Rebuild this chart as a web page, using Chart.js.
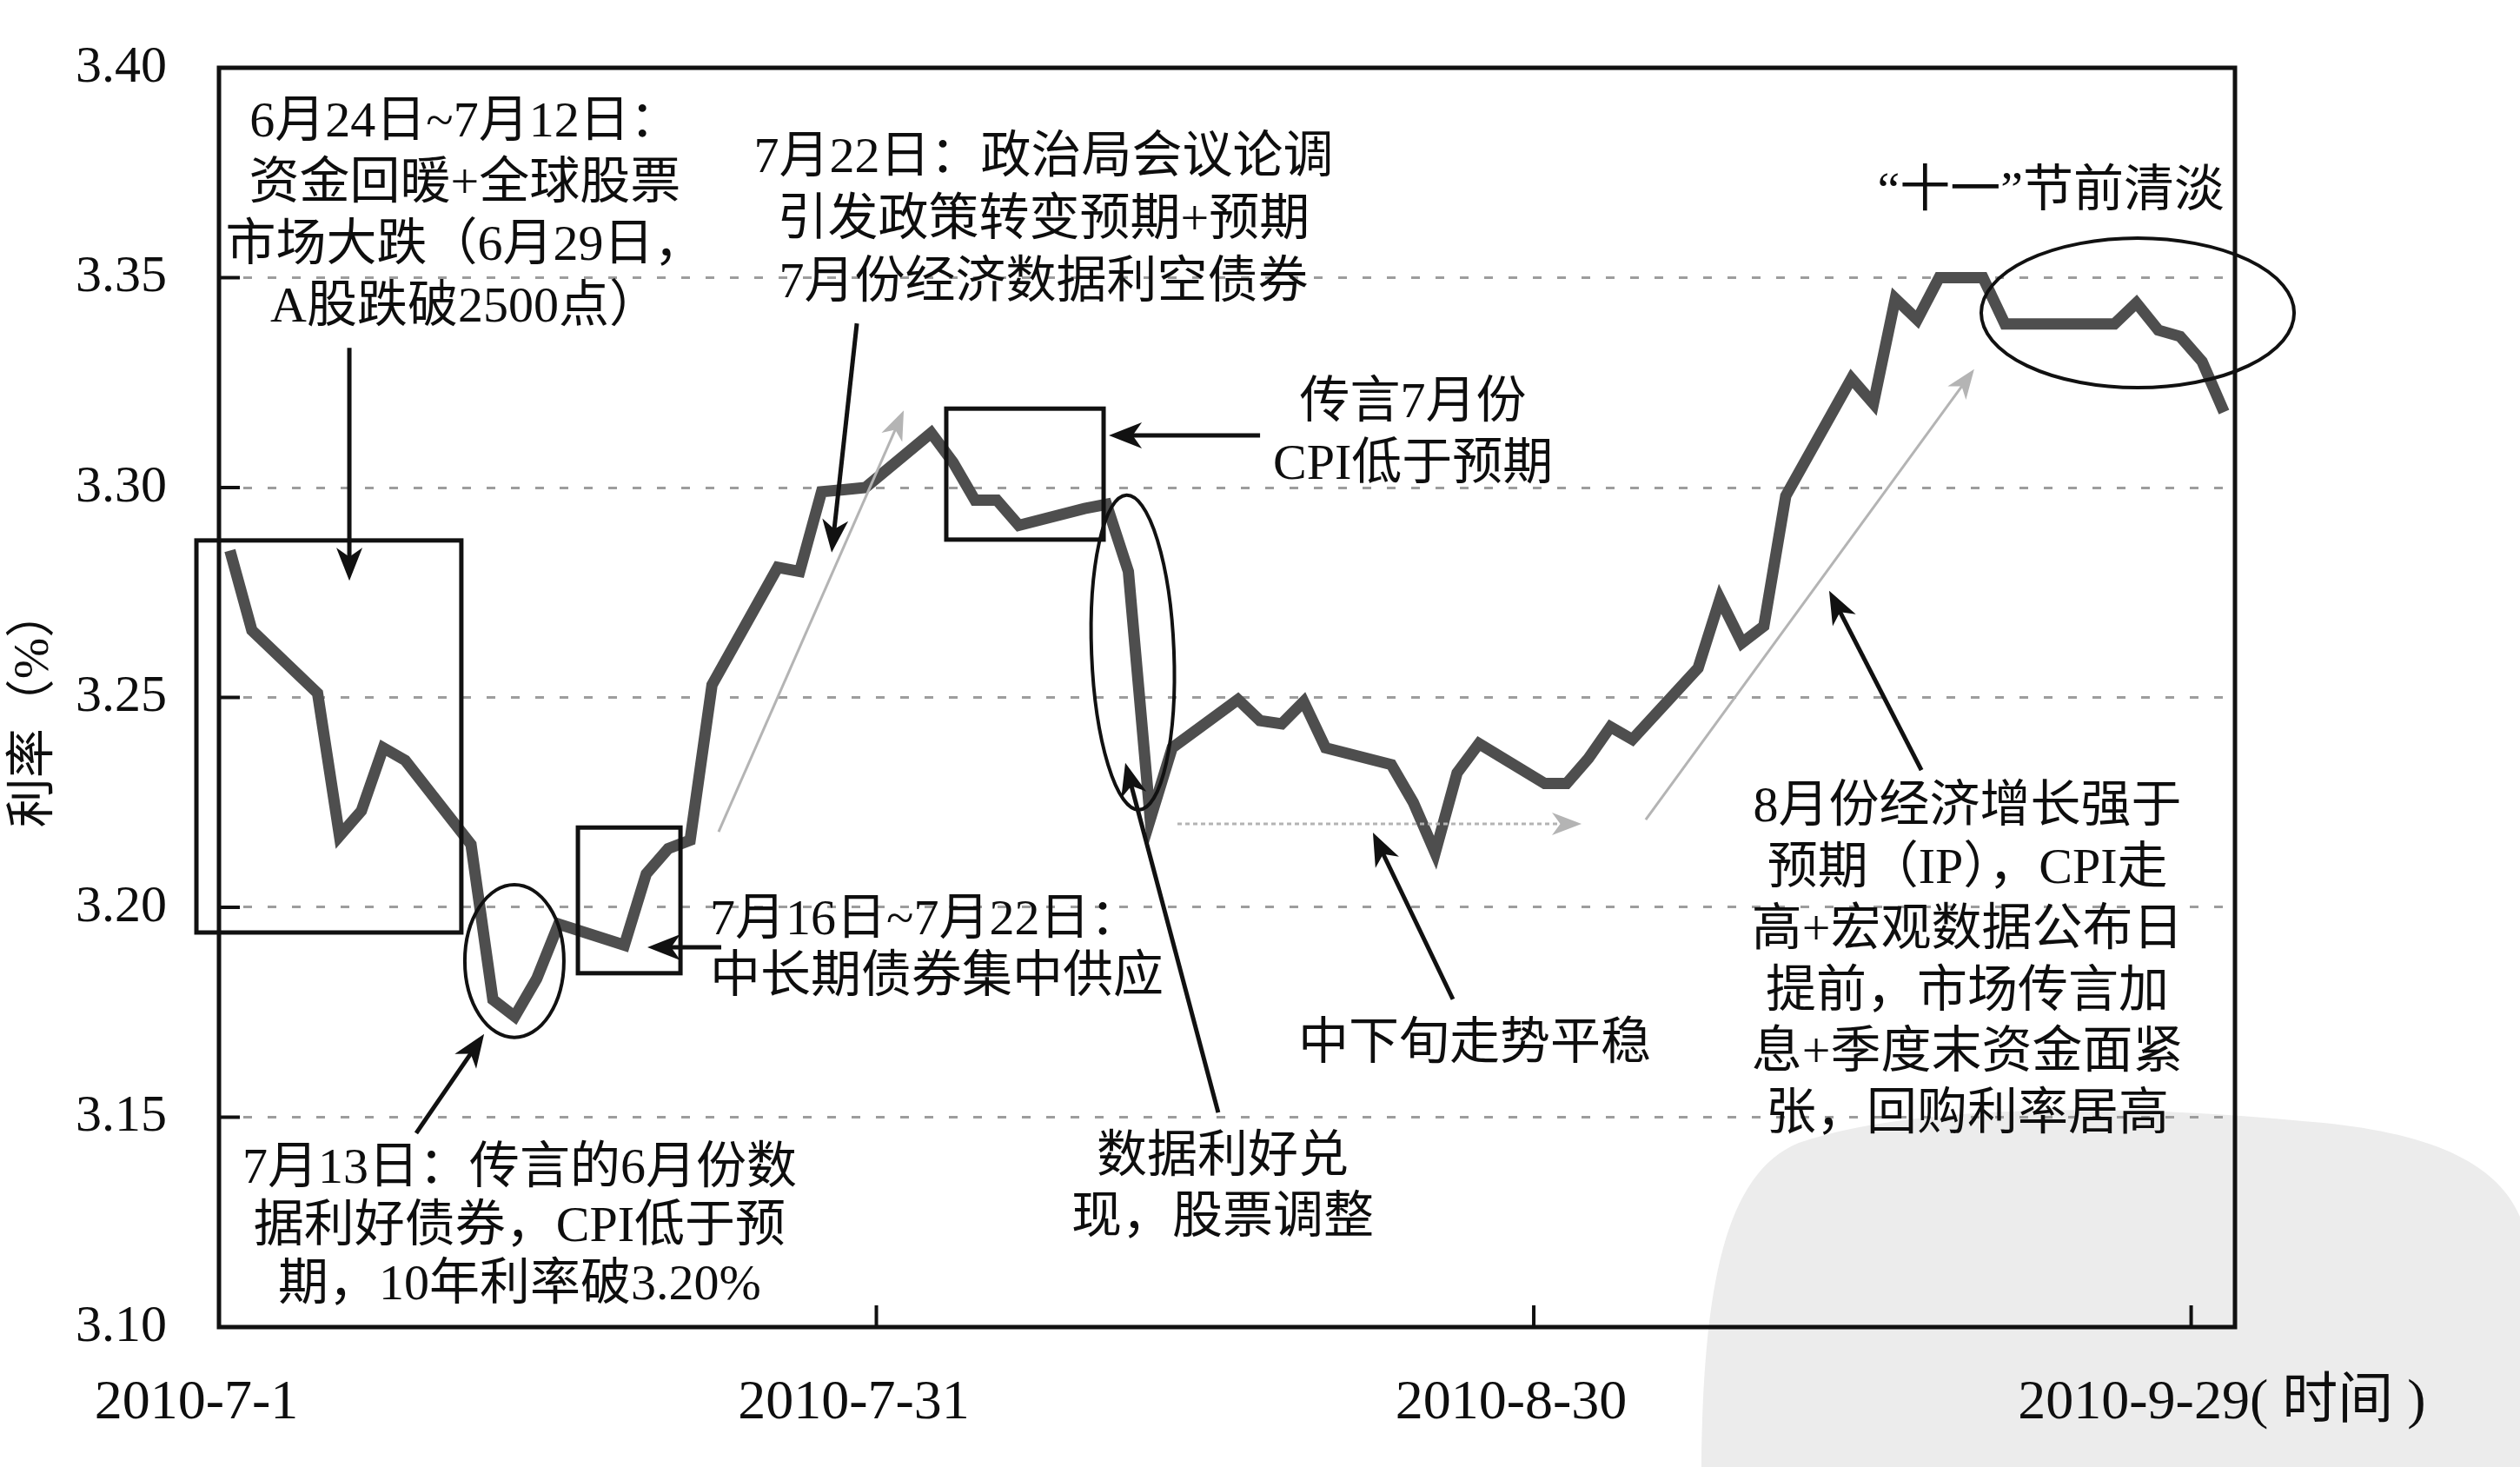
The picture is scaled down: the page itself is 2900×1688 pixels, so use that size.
<!DOCTYPE html>
<html><head><meta charset="utf-8">
<script src="https://cdn.jsdelivr.net/npm/chart.js@4.4.1/dist/chart.umd.min.js"></script>
<style>html,body{margin:0;padding:0;background:#fff}canvas{display:block}</style>
</head><body>
<canvas id="c" width="2900" height="1688"></canvas>
<script>
// ---------------- DATA ----------------
const startDate = '2010-07-01';
const dates = [
 '2010-07-01','2010-07-02','2010-07-05','2010-07-06','2010-07-07','2010-07-08','2010-07-09',
 '2010-07-12','2010-07-13','2010-07-14','2010-07-15','2010-07-16',
 '2010-07-19','2010-07-20','2010-07-21','2010-07-22','2010-07-23',
 '2010-07-26','2010-07-27','2010-07-28','2010-07-29','2010-07-30',
 '2010-08-02','2010-08-03','2010-08-04','2010-08-05','2010-08-06',
 '2010-08-09','2010-08-10','2010-08-11','2010-08-12','2010-08-13',
 '2010-08-16','2010-08-17','2010-08-18','2010-08-19','2010-08-20',
 '2010-08-23','2010-08-24','2010-08-25','2010-08-26','2010-08-27',
 '2010-08-30','2010-08-31','2010-09-01','2010-09-02','2010-09-03',
 '2010-09-06','2010-09-07','2010-09-08','2010-09-09','2010-09-10',
 '2010-09-13','2010-09-14','2010-09-15','2010-09-16','2010-09-17',
 '2010-09-19','2010-09-20','2010-09-21','2010-09-25','2010-09-26',
 '2010-09-27','2010-09-28','2010-09-29','2010-09-30'
];
const yields = [
 3.285,3.266,3.251,3.217,3.223,3.238,3.235,
 3.215,3.178,3.174,3.183,3.196,
 3.191,3.208,3.214,3.216,3.253,
 3.281,3.280,3.299,3.2995,3.300,
 3.313,3.306,3.297,3.297,3.291,
 3.295,3.296,3.280,3.221,3.238,
 3.2495,3.2445,3.2437,3.249,3.238,
 3.234,3.225,3.213,3.232,3.239,
 3.2295,3.2295,3.2355,3.243,3.240,
 3.257,3.2735,3.263,3.267,3.298,
 3.326,3.320,3.345,3.340,3.350,
 3.350,3.339,3.339,3.339,3.344,
 3.3375,3.336,3.330,3.318
];
const xTickDays   = [0, 30, 60, 90];
const xTickLabels = ['2010-7-1','2010-7-31','2010-8-30','2010-9-29'];
const xUnitLabel  = '( 时间 )';
const xSpanDays   = 92;
const yTicks      = [3.10, 3.15, 3.20, 3.25, 3.30, 3.35, 3.40];
const yTitle      = '利率（%）';

// annotations in chart units: [day since 2010-7-1, yield]
const boxNotes = [
  {from:[-1.03,3.2874], to:[11.06,3.1940]},
  {from:[16.38,3.2190], to:[21.06,3.1843]},
  {from:[33.19,3.3188], to:[40.37,3.2876]}
];
const ellipseNotes = [
  {c:[13.48,3.1872], rx:2.26, ry:0.0182, rot:0},
  {c:[41.70,3.2607], rx:1.88, ry:0.0375, rot:-0.04},
  {c:[87.56,3.3416], rx:7.14, ry:0.0178, rot:0}
];
const blackArrows = [
  [[5.95,3.3333],[5.95,3.2778]],
  [[9.00,3.1462],[12.10,3.1698]],
  [[22.92,3.1905],[19.55,3.1905]],
  [[29.11,3.3391],[27.96,3.2845]],
  [[47.51,3.3124],[40.61,3.3124]],
  [[45.60,3.1511],[41.36,3.2344]],
  [[56.31,3.1781],[52.66,3.2178]],
  [[77.69,3.2327],[73.48,3.2754]]
];
const grayArrows = [
  {from:[22.80,3.2180], to:[31.25,3.3184], dotted:false},
  {from:[43.74,3.2199], to:[62.18,3.2199], dotted:true},
  {from:[65.11,3.2209], to:[80.10,3.3282], dotted:false}
];
const textNotes = [
  {at:[11.22,3.3867], align:'center', gap:71, lines:['6月24日~7月12日：','资金回暖+全球股票','市场大跌（6月29日，','A股跌破2500点）']},
  {at:[37.63,3.3783], align:'center', gap:72, lines:['7月22日：政治局会议论调','引发政策转变预期+预期','7月份经济数据利空债券']},
  {at:[54.49,3.3199], align:'center', gap:71, lines:['传言7月份','CPI低于预期']},
  {at:[83.60,3.3702], align:'center', gap:70, lines:['“十一”节前清淡']},
  {at:[22.41,3.1967], align:'left',   gap:66, lines:['7月16日~7月22日：','中长期债券集中供应']},
  {at:[13.72,3.1375], align:'center', gap:67, lines:['7月13日：传言的6月份数','据利好债券，CPI低于预','期，10年利率破3.20%']},
  {at:[45.80,3.1402], align:'center', gap:70, lines:['数据利好兑','现，股票调整']},
  {at:[57.30,3.1671], align:'center', gap:70, lines:['中下旬走势平稳']},
  {at:[79.79,3.2236], align:'center', gap:70.8, lines:['8月份经济增长强于','预期（IP），CPI走','高+宏观数据公布日','提前，市场传言加','息+季度末资金面紧','张，回购利率居高']}
];

// ---------------- BUILD ----------------
function dayIndex(s){ return Math.round((Date.parse(s+'T00:00:00Z') - Date.parse(startDate+'T00:00:00Z'))/86400000); }
// each daily value is placed at the middle of its calendar day
const points = dates.map((d,i)=>({x: dayIndex(d)+0.5, y: yields[i]}));

const FONT = '"Liberation Serif", "Noto Sans CJK SC", serif';
const INK = '#0e0e0e';
const LAST_PAD = '\u2002\u2002 ';   // keeps the last date label left of its tick, as in the source

function drawArrow(ctx,x1,y1,x2,y2,color,lw,len,half,dash){
  const a = Math.atan2(y2-y1,x2-x1), c=Math.cos(a), s=Math.sin(a);
  ctx.save();
  ctx.strokeStyle=color; ctx.fillStyle=color; ctx.lineWidth=lw;
  if(dash) ctx.setLineDash(dash);
  ctx.beginPath(); ctx.moveTo(x1,y1); ctx.lineTo(x2-len*0.7*c, y2-len*0.7*s); ctx.stroke();
  ctx.setLineDash([]);
  const bx=x2-len*c, by=y2-len*s;
  ctx.beginPath(); ctx.moveTo(x2,y2);
  ctx.lineTo(bx - s*half, by + c*half);
  ctx.lineTo(x2-len*0.72*c, y2-len*0.72*s);
  ctx.lineTo(bx + s*half, by - c*half);
  ctx.closePath(); ctx.fill();
  ctx.restore();
}

const notesPlugin = {
  id:'notes',
  beforeDraw(chart){
    const ctx=chart.ctx, W=chart.width, H=chart.height;
    ctx.save();
    ctx.fillStyle='#fff'; ctx.fillRect(0,0,W,H);
    // light watermark blob (bottom right)
    ctx.fillStyle='#ececec';
    ctx.beginPath();
    ctx.moveTo(1958,H);
    ctx.bezierCurveTo(1960,1480,1985,1350,2070,1315);
    ctx.bezierCurveTo(2200,1270,2450,1270,2650,1290);
    ctx.bezierCurveTo(2780,1300,2870,1330,W,1400);
    ctx.lineTo(W,H); ctx.closePath(); ctx.fill();
    ctx.restore();
  },
  afterDatasetsDraw(chart){
    const ctx=chart.ctx, xs=chart.scales.x, ys=chart.scales.y, ca=chart.chartArea;
    const X=d=>xs.getPixelForValue(d), Y=v=>ys.getPixelForValue(v);
    ctx.save();
    // plot frame
    ctx.strokeStyle='#111'; ctx.lineWidth=5;
    ctx.strokeRect(ca.left, ca.top, ca.right-ca.left, ca.bottom-ca.top);
    // inner tick marks
    ctx.lineWidth=4;
    yTicks.forEach(v=>{ if(v>yTicks[0] && v<yTicks[yTicks.length-1]){ ctx.beginPath(); ctx.moveTo(ca.left, Y(v)); ctx.lineTo(ca.left+24, Y(v)); ctx.stroke(); }});
    xTickDays.forEach(d=>{ if(d>0){ ctx.beginPath(); ctx.moveTo(X(d), ca.bottom); ctx.lineTo(X(d), ca.bottom-25); ctx.stroke(); }});
    // boxes
    ctx.lineWidth=5; ctx.strokeStyle='#111';
    boxNotes.forEach(b=>{ const x0=X(b.from[0]), y0=Y(b.from[1]), x1=X(b.to[0]), y1=Y(b.to[1]); ctx.strokeRect(x0,y0,x1-x0,y1-y0); });
    // ellipses
    ctx.lineWidth=4;
    ellipseNotes.forEach(e=>{ const cx=X(e.c[0]), cy=Y(e.c[1]); const rx=X(e.c[0]+e.rx)-cx, ry=Y(e.c[1]-e.ry)-cy; ctx.beginPath(); ctx.ellipse(cx,cy,rx,ry,e.rot,0,Math.PI*2); ctx.stroke(); });
    // gray arrows
    grayArrows.forEach(g=>{ drawArrow(ctx,X(g.from[0]),Y(g.from[1]),X(g.to[0]),Y(g.to[1]),'#b4b4b4',3,34,13,g.dotted?[5,4]:null); });
    // black arrows
    blackArrows.forEach(a=>{ drawArrow(ctx,X(a[0][0]),Y(a[0][1]),X(a[1][0]),Y(a[1][1]),'#111',5,38,15,null); });
    // texts
    ctx.fillStyle=INK; ctx.font='58px '+FONT; ctx.textBaseline='middle';
    textNotes.forEach(t=>{ ctx.textAlign=t.align; const x=X(t.at[0]), y=Y(t.at[1]); t.lines.forEach((ln,i)=>ctx.fillText(ln,x,y+i*t.gap)); });
    // y title
    ctx.save(); ctx.translate(40, Y(3.2475)); ctx.rotate(-Math.PI/2);
    ctx.font='57px '+FONT; ctx.textAlign='center'; ctx.textBaseline='middle'; ctx.fillText(yTitle,0,0); ctx.restore();
    // unit label right after the last x tick label
    ctx.font='64px '+FONT; ctx.textAlign='left'; ctx.textBaseline='middle';
    const lastTxt = xTickLabels[xTickLabels.length-1];
    const wDate = ctx.measureText(lastTxt).width, wFull = ctx.measureText(lastTxt+LAST_PAD).width;
    const cx = X(xTickDays[xTickDays.length-1]) - 26;
    ctx.fillText(xUnitLabel, cx - wFull/2 + wDate, 1614);
    ctx.restore();
  }
};

new Chart(document.getElementById('c'), {
  type:'line',
  data:{ datasets:[{ data: points, borderColor:'#4e4e4e', borderWidth:13, pointRadius:0, tension:0, fill:false, borderJoinStyle:'miter', borderCapStyle:'butt' }]},
  options:{
    responsive:false, devicePixelRatio:1, animation:false,
    layout:{ padding:{ left:0, right:328, top:78, bottom:0 } },
    plugins:{ legend:{display:false}, tooltip:{enabled:false} },
    scales:{
      x:{ type:'linear', min:0, max:xSpanDays,
          afterFit(s){ s.height = 161; },
          afterBuildTicks(s){ s.ticks = xTickDays.map(v=>({value:v})); },
          grid:{ display:false, drawTicks:false },
          border:{ display:false },
          ticks:{ padding:50, labelOffset:-26, maxRotation:0, autoSkip:false, color:INK,
                  font:{ family:FONT, size:64 },
                  callback:(v)=>{ const i=xTickDays.indexOf(v); if(i<0) return ''; return i===xTickDays.length-1 ? xTickLabels[i]+LAST_PAD : xTickLabels[i]; } } },
      y:{ type:'linear', min:yTicks[0], max:yTicks[yTicks.length-1],
          afterFit(s){ s.width = 252; s.paddingTop = 0; s.paddingBottom = 0; },
          afterBuildTicks(s){ s.ticks = yTicks.map(v=>({value:v})); },
          grid:{ drawTicks:false, lineWidth:3,
                 color:(c)=> (c.tick && (c.tick.value>yTicks[0]+1e-9 && c.tick.value<yTicks[yTicks.length-1]-1e-9)) ? '#9d9d9d' : 'rgba(0,0,0,0)' },
          border:{ display:false, dash:[10,18] },
          ticks:{ padding:60, color:INK, font:{ family:FONT, size:60 }, callback:(v)=>Number(v).toFixed(2) } }
    }
  },
  plugins:[notesPlugin]
});
</script>
</body></html>
